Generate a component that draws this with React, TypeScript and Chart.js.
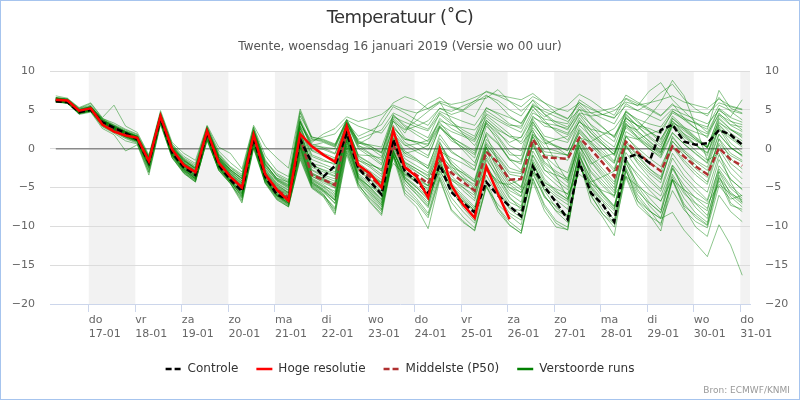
import React, { useEffect, useRef } from 'react';
import { Chart, registerables } from 'chart.js';

Chart.register(...registerables);

const FONT = "'DejaVu Sans', 'Noto Sans', sans-serif";

// time axis: hours relative to 17-01 00:00 (local), 6-hourly steps
const firstStepHour = -17;
const stepHours = 6;
const xMinHour = -20;
const xMaxHour = 341;

const dayNames = ['do', 'vr', 'za', 'zo', 'ma', 'di', 'wo', 'do', 'vr', 'za', 'zo', 'ma', 'di', 'wo', 'do'];
const dayDates = ['17-01', '18-01', '19-01', '20-01', '21-01', '22-01', '23-01', '24-01', '25-01', '26-01', '27-01', '28-01', '29-01', '30-01', '31-01'];
const yTicks = [10, 5, 0, -5, -10, -15, -20];

const controle = [
  6.1, 6.0, 4.7, 5.0, 3.4, 2.7, 2.0, 1.2, -1.8, 3.9,
  -0.5, -2.4, -3.4, 2.1, -2.1, -4.0, -5.5, 1.4, -3.6, -5.9,
  -6.6, 1.2, -1.8, -3.6, -2.2, 2.0, -2.5, -4.2, -5.9, 1.2,
  -2.9, -4.2, -5.8, -2.1, -5.6, -7.0, -8.2, -4.3, -6.0, -7.4,
  -8.7, -2.3, -4.9, -6.9, -9.1, -1.8, -5.7, -7.2, -9.4, -1.2,
  -0.7, -1.8, 2.4, 3.1, 0.9, 0.5, 0.7, 2.4, 1.8, 0.5,
];

const hogeResolutie = [
  6.3, 6.2, 4.9, 5.2, 3.1, 2.2, 1.7, 1.4, -1.6, 4.2,
  -0.1, -2.1, -3.0, 2.3, -1.8, -3.6, -5.0, 1.8, -3.3, -5.3,
  -6.7, 1.9, 0.3, -0.8, -1.7, 2.9, -2.1, -3.2, -5.0, 2.4,
  -2.4, -3.6, -6.3, 0.0, -4.7, -7.2, -8.9, -2.3, -5.8, -9.1,
];

const middelste = [
  6.2, 6.1, 4.8, 5.1, 3.4, 2.6, 1.9, 1.3, -1.7, 4.0,
  -0.3, -2.2, -3.3, 2.1, -1.8, -3.7, -5.0, 1.6, -3.4, -5.3,
  -6.3, 1.4, -3.4, -4.0, -4.7, 2.3, -2.6, -3.6, -4.9, 0.5,
  -2.4, -3.4, -4.5, -1.2, -3.1, -4.3, -5.4, -0.4, -1.8, -4.0,
  -3.9, 1.2, -1.1, -1.2, -1.3, 1.4, -0.1, -1.8, -3.6, 0.9,
  -0.5, -1.8, -2.9, 0.3, -1.0, -2.3, -3.3, 0.1, -1.4, -2.2,
];

const verstoordeRuns: number[][] = [
  [6.3, 6.0, 4.7, 5.0, 3.3, 2.5, 1.8, 1.2, -2.0, 3.8,
    -0.6, -2.5, -3.6, 1.9, -2.2, -4.1, -5.6, 1.2, -3.9, -5.8,
    -6.9, 0.8, -3.9, -4.8, -5.5, 1.8, -3.4, -4.6, -6.2, -0.3,
    -3.8, -5.0, -6.4, -2.9, -5.2, -6.7, -7.9, -2.6, -4.5, -6.9,
    -7.6, -1.8, -4.6, -5.9, -6.8, -1.0, -3.9, -5.8, -7.4, -1.6,
    -3.2, -4.9, -6.1, -2.1, -4.0, -5.6, -6.8, -2.6, -4.8, -6.1],
  [6.5, 6.3, 5.0, 5.3, 3.7, 2.9, 2.2, 1.6, -1.3, 4.3,
    0.1, -1.8, -2.8, 2.5, -1.3, -3.1, -4.4, 2.1, -2.8, -4.6,
    -5.7, 2.3, -2.1, -2.8, -3.5, 3.0, -1.2, -2.2, -3.3, 1.9,
    -0.6, -1.4, -2.2, 1.3, -0.5, -1.3, -2.2, 2.9, 1.4, -0.8,
    -0.9, 3.8, 1.6, 1.2, 0.8, 3.5, 2.1, 0.6, -0.9, 3.2,
    2.0, 0.6, -0.5, 2.8, 1.5, 0.4, -0.6, 2.5, 1.3, 0.2],
  [6.4, 6.2, 4.9, 5.4, 3.9, 3.3, 2.5, 1.9, -1.0, 4.6,
    0.5, -1.2, -2.1, 2.8, -0.6, -2.3, -3.3, 2.7, -1.6, -3.2,
    -4.0, 3.5, 0.4, 0.8, 0.2, 3.6, 0.9, 0.3, -0.4, 4.0,
    2.5, 3.6, 4.8, 5.9, 5.3, 4.8, 4.1, 6.8, 6.2, 5.0,
    4.2, 6.3, 5.1, 4.5, 3.8, 6.0, 4.6, 3.9, 3.2, 5.8,
    4.9, 5.8, 7.2, 8.3, 6.4, 5.1, 4.2, 6.6, 4.8, 3.7],
  [6.0, 5.9, 4.5, 4.8, 2.8, 2.0, 1.0, 0.6, -3.1, 3.3,
    -1.1, -3.0, -4.1, 1.1, -2.6, -4.4, -6.8, 0.3, -4.2, -6.3,
    -7.3, -0.8, -4.7, -5.8, -8.3, -0.5, -4.6, -6.5, -8.1, -1.0,
    -5.3, -6.7, -8.6, -3.6, -6.9, -8.8, -10.2, -4.7, -7.6, -9.4,
    -10.6, -3.8, -7.2, -9.3, -10.1, -1.9, -5.5, -7.9, -9.6, -2.8,
    -5.9, -7.8, -9.9, -3.6, -6.4, -8.3, -9.5, -3.8, -6.2, -7.5],
  [6.6, 6.4, 5.2, 5.6, 3.8, 2.8, 2.1, 1.5, -1.2, 4.5,
    0.4, -1.4, -2.6, 2.6, -1.0, -2.7, -3.8, 2.4, -1.8, -4.0,
    -4.8, 4.6, 1.2, 0.9, 0.3, 3.4, 0.5, -0.6, -1.5, 3.6,
    1.4, 0.7, -0.2, 2.9, 1.3, 0.1, -1.2, 3.7, 2.2, 0.4,
    -0.3, 4.2, 2.9, 2.6, 2.0, 4.5, 3.1, 2.0, 0.9, 4.8,
    3.4, 2.3, 1.1, 4.2, 2.8, 1.5, 0.3, 4.0, 2.5, 1.8],
  [6.2, 6.0, 4.6, 5.0, 3.2, 2.4, 1.6, 1.0, -2.3, 3.6,
    -0.8, -2.7, -3.9, 1.7, -2.4, -4.2, -5.9, 0.9, -4.0, -6.0,
    -7.0, 0.2, -4.3, -5.2, -6.4, 1.2, -3.7, -5.1, -6.8, -0.6,
    -3.0, -3.9, -4.7, -0.8, -2.4, -3.1, -4.2, 0.6, -1.5, -3.8,
    -4.9, 0.9, -1.7, -2.9, -3.8, 1.6, -0.9, -2.6, -4.3, 1.0,
    -0.8, -2.5, -3.9, 0.2, -1.8, -3.4, -4.6, -0.1, -2.4, -3.9],
  [6.8, 6.5, 5.3, 5.9, 4.0, 5.6, 2.9, 2.1, -0.8, 4.9,
    0.8, -0.6, -1.5, 3.0, 0.2, -0.6, -2.6, 3.0, 0.3, -1.2,
    -2.5, 5.1, 1.5, 1.1, 0.5, 3.8, 1.0, 0.4, -0.6, 4.4,
    3.0, 2.2, 1.4, 4.6, 3.5, 2.4, 1.6, 5.3, 4.4, 3.2,
    2.6, 5.8, 4.5, 3.4, 2.8, 5.4, 3.9, 2.7, 1.5, 4.9,
    3.6, 2.2, 0.8, 3.9, 2.5, 1.2, 0.2, 3.5, 2.0, 1.0],
  [6.1, 5.9, 4.6, 4.9, 3.0, 2.3, 1.5, 0.9, -2.6, 3.5,
    -0.9, -2.9, -4.0, 1.5, -2.5, -4.3, -6.2, 0.6, -4.1, -6.2,
    -7.2, -0.4, -4.6, -5.6, -7.0, 0.4, -4.2, -5.8, -7.5, -0.9,
    -4.4, -5.9, -7.6, -2.8, -5.5, -7.3, -8.7, -3.4, -6.1, -8.3,
    -9.2, -3.0, -6.3, -7.4, -8.6, -2.2, -5.0, -6.8, -8.5, -3.5,
    -6.7, -8.0, -9.0, -8.2, -10.5, -12.2, -13.9, -9.8, -12.4, -16.3],
  [6.3, 6.1, 4.8, 5.1, 3.5, 2.6, 1.9, 1.3, -1.7, 4.1,
    -0.3, -2.1, -3.2, 2.2, -1.6, -3.5, -4.8, 1.7, -3.2, -5.1,
    -6.0, 1.8, -2.8, -3.6, -4.2, 2.6, -2.0, -3.1, -4.3, 1.1,
    -1.7, -2.6, -3.6, 0.0, -2.0, -3.2, -4.3, 0.8, -1.0, -3.0,
    -3.2, 1.9, -0.4, -0.6, -0.8, 2.0, 0.4, -1.2, -2.9, 1.5,
    0.1, -1.2, -2.3, 0.9, -0.5, -1.7, -2.8, 0.7, -0.9, -1.7],
  [6.2, 6.0, 4.7, 5.0, 3.3, 2.4, 1.7, 1.1, -2.1, 3.7,
    -0.7, -2.6, -3.7, 1.8, -2.3, -4.0, -5.7, 1.0, -3.8, -5.9,
    -6.8, 0.5, -4.0, -4.9, -6.0, 1.5, -3.5, -4.9, -6.5, -0.2,
    -3.6, -4.8, -6.2, -1.9, -4.4, -6.0, -7.5, -2.0, -4.9, -7.3,
    -8.6, -2.7, -5.3, -6.6, -7.8, -0.4, -3.1, -4.8, -6.3, 0.3,
    -1.7, -3.2, -4.4, 1.0, -0.9, -2.6, -3.7, 1.3, -0.6, -1.5],
  [6.4, 6.2, 4.9, 5.2, 3.6, 2.8, 2.0, 1.4, -1.5, 4.2,
    -0.1, -1.9, -3.0, 2.3, -1.4, -3.2, -4.6, 1.9, -2.9, -4.7,
    -5.6, 2.6, -1.4, -2.0, -2.6, 2.9, -1.5, -2.4, -3.6, 1.6,
    -0.9, -1.6, -2.5, 1.8, -0.3, -1.4, -2.7, 2.1, 0.7, -1.5,
    -1.7, 2.7, 0.8, 0.3, -0.2, 3.0, 1.6, 0.5, -0.7, 3.9,
    3.0, 2.6, 1.9, 4.8, 4.0, 3.2, 2.5, 7.5, 5.2, 4.6],
  [6.0, 5.8, 4.5, 4.8, 3.0, 2.2, 1.4, 0.8, -2.8, 3.4,
    -1.0, -3.1, -4.3, 1.3, -2.8, -4.5, -6.4, 0.4, -4.4, -6.5,
    -7.5, -1.2, -5.0, -6.0, -7.6, 0.0, -4.8, -6.3, -7.9, -0.8,
    -4.0, -5.4, -6.9, -2.4, -4.8, -6.5, -8.0, -1.5, -3.6, -5.8,
    -6.9, -0.8, -3.3, -4.6, -5.9, 0.5, -2.4, -4.1, -5.7, -0.5,
    -2.6, -4.1, -5.5, -1.2, -3.5, -5.1, -6.6, -1.4, -3.9, -5.3],
  [6.5, 6.3, 5.0, 5.3, 3.4, 2.7, 2.0, 1.6, -1.4, 4.4,
    0.2, -1.6, -2.7, 2.4, -1.1, -2.9, -4.1, 2.3, -2.2, -4.1,
    -5.0, 3.8, 0.6, 0.1, -0.6, 3.3, 0.2, -0.7, -1.9, 3.0,
    0.8, 0.0, -0.9, 2.7, 1.4, 0.6, -0.3, 4.5, 3.6, 2.8,
    2.1, 5.0, 3.3, 2.4, 1.8, 4.4, 2.4, 0.9, -0.4, 3.3,
    1.4, 0.0, -1.2, 2.0, 0.6, -0.7, -1.9, 1.9, 0.1, -0.8],
  [6.1, 6.0, 4.7, 4.9, 3.2, 2.3, 1.6, 1.0, -2.4, 3.6,
    -0.8, -2.8, -3.8, 1.6, -2.4, -4.3, -6.0, 0.8, -4.0, -6.1,
    -7.1, 0.1, -4.4, -5.4, -6.7, 0.9, -3.9, -5.5, -7.2, -0.7,
    -4.8, -6.4, -8.3, -3.2, -6.3, -8.1, -9.6, -4.0, -7.7, -9.8,
    -10.9, -3.9, -7.5, -9.6, -10.5, -1.5, -4.8, -6.6, -8.0, -1.3,
    -3.6, -5.3, -6.8, -2.5, -4.7, -6.4, -7.7, -2.9, -5.1, -6.4],
  [6.3, 6.2, 4.9, 5.3, 3.6, 2.7, 2.1, 1.5, -1.4, 4.3,
    0.0, -1.9, -2.9, 2.3, -1.3, -3.2, -4.4, 2.0, -2.6, -4.4,
    -5.3, 3.0, -0.8, -1.4, -2.1, 3.1, -0.9, -1.8, -2.9, 2.4,
    0.5, -0.4, -1.2, 2.8, 1.0, 0.2, -0.8, 3.3, 2.0, 0.8,
    1.5, 4.6, 3.8, 3.5, 3.2, 6.3, 5.3, 4.4, 3.9, 6.4,
    5.5, 7.4, 8.5, 6.3, 4.8, 3.4, 2.1, 5.1, 3.6, 2.4],
  [6.2, 6.1, 4.8, 5.0, 3.4, 2.5, 1.8, 1.2, -1.9, 3.9,
    -0.4, -2.3, -3.4, 2.0, -1.9, -3.8, -5.2, 1.4, -3.5, -5.5,
    -6.5, 1.0, -3.5, -4.4, -5.1, 2.0, -2.9, -4.0, -5.5, 0.2,
    -2.5, -3.6, -4.8, -1.1, -3.5, -5.0, -6.4, -0.9, -3.2, -5.4,
    -6.2, -0.3, -2.8, -3.4, -4.0, 0.8, -1.7, -3.6, -5.4, 0.4,
    -1.9, -3.7, -5.2, -0.6, -2.7, -4.4, -5.6, -0.8, -3.2, -4.6],
  [6.0, 5.9, 4.4, 4.7, 2.6, 1.8, -0.3, 0.5, -3.4, 3.1,
    -1.2, -3.1, -4.2, 1.0, -2.7, -4.4, -6.6, 0.1, -4.3, -6.4,
    -7.4, -1.0, -4.9, -6.1, -8.0, -0.3, -4.5, -6.8, -8.4, -0.5,
    -5.7, -7.0, -8.9, -3.8, -7.8, -9.3, -10.6, -4.8, -8.1, -9.9,
    -10.9, -4.3, -8.0, -10.1, -10.4, -1.7, -6.9, -8.8, -11.2, -2.6,
    -6.8, -8.5, -10.6, -4.0, -7.4, -8.6, -9.8, -3.4, -7.0, -8.1],
  [6.5, 6.3, 5.1, 5.5, 3.7, 3.0, 2.3, 1.7, -1.1, 4.5,
    0.3, -1.3, -2.3, 2.7, -0.8, -2.5, -3.6, 2.5, -1.4, -3.5,
    -4.4, 4.2, 1.5, 1.2, 0.6, 3.5, 0.8, 0.1, -1.0, 3.8,
    2.0, 4.5, 5.8, 6.6, 5.4, 5.0, 6.2, 6.5, 7.6, 6.1,
    4.8, 6.2, 4.4, 3.1, 2.4, 5.1, 3.0, 1.3, 0.2, 4.1,
    2.3, 0.9, -0.4, 3.1, 1.2, -0.3, -1.5, 2.8, 0.7, -0.5],
  [6.3, 6.1, 4.8, 5.1, 3.2, 2.4, 1.8, 1.3, -1.8, 4.0,
    -0.5, -2.3, -3.5, 2.1, -1.7, -3.6, -5.0, 1.5, -3.3, -5.4,
    -6.3, 1.4, -3.1, -3.9, -4.7, 2.4, -2.3, -3.4, -4.8, 0.7,
    -1.9, -2.9, -4.0, -0.3, -1.2, -1.9, -2.8, 1.9, 0.6, -1.3,
    -2.0, 3.1, 1.3, 0.2, -0.9, 2.6, 0.8, -1.0, -2.6, 2.2,
    1.2, 0.0, -1.0, 3.3, 2.6, 1.4, 0.1, 4.3, 3.0, 2.2],
  [6.4, 6.2, 4.9, 5.2, 3.5, 2.7, 2.0, 1.4, -1.6, 4.2,
    -0.2, -2.0, -3.1, 2.2, -1.5, -3.4, -4.7, 1.8, -3.0, -4.9,
    -5.8, 2.0, -2.4, -3.0, -3.6, 2.7, -1.8, -2.9, -4.0, 1.3,
    -1.3, -2.2, -3.1, 0.7, -1.6, -2.9, -4.0, 1.2, -0.6, -2.5,
    -3.0, 2.2, 0.1, -0.3, -0.9, 2.4, 0.9, -0.4, -1.8, 2.9,
    1.6, 0.4, -0.6, 3.9, 2.7, 2.1, 1.6, 5.2, 4.1, 6.3],
  [6.2, 6.0, 4.7, 5.0, 3.3, 2.5, 1.7, 1.1, -2.0, 3.8,
    -0.6, -2.5, -3.6, 1.9, -2.1, -3.9, -5.4, 1.2, -3.7, -5.7,
    -6.7, 0.6, -3.8, -4.6, -5.8, 1.6, -3.2, -4.4, -6.0, 0.0,
    -3.2, -4.3, -5.5, -1.4, -3.9, -5.4, -6.7, -1.2, -4.0, -6.4,
    -7.4, -1.4, -4.2, -5.6, -6.5, -0.6, -5.1, -7.3, -9.2, -2.4,
    -5.5, -7.0, -8.2, -3.3, -5.8, -7.1, -8.6, -3.7, -5.6, -6.9],
  [6.4, 6.3, 5.0, 5.4, 3.8, 3.0, 2.2, 1.6, -1.3, 4.4,
    0.1, -1.6, -2.5, 2.6, -1.0, -2.7, -3.9, 2.2, -2.0, -3.9,
    -4.7, 3.4, 0.2, -0.1, -0.7, 3.2, 0.0, -1.0, -2.1, 2.8,
    1.2, 0.9, 0.4, 3.9, 2.6, 1.8, 1.1, 4.9, 3.9, 3.0,
    2.9, 5.4, 4.1, 4.9, 5.6, 7.0, 6.2, 5.1, 4.3, 6.9,
    6.0, 5.2, 4.3, 5.8, 3.9, 2.6, 1.4, 4.6, 3.1, 2.8],
  [6.1, 5.9, 4.6, 4.9, 3.1, 2.2, 1.5, 0.9, -2.5, 3.5,
    -0.9, -2.9, -4.1, 1.4, -2.6, -4.2, -6.1, 0.7, -4.1, -6.0,
    -7.0, -0.2, -4.5, -5.5, -7.1, 0.6, -4.0, -5.6, -7.3, -0.4,
    -3.4, -4.3, -5.1, -1.0, -2.8, -3.9, -5.1, 0.2, -2.1, -4.3,
    -5.3, 0.4, -2.2, -3.7, -4.9, 1.1, -1.6, -3.3, -5.0, 1.7,
    -0.2, -1.7, -2.8, 1.4, -0.2, -1.5, -2.4, 1.8, 0.1, -0.9],
  [6.3, 6.1, 4.8, 5.2, 3.5, 2.7, 2.0, 1.4, -1.6, 4.1,
    -0.1, -2.0, -3.1, 2.1, -1.6, -3.5, -4.9, 1.7, -3.1, -5.0,
    -5.9, 2.2, -1.9, -2.3, -3.0, 2.8, -1.0, -1.9, -2.8, 2.1,
    -0.3, -1.3, -2.6, 0.9, -2.2, -4.0, -5.8, -0.3, -3.4, -6.2,
    -7.9, -1.7, -5.4, -7.6, -8.9, -1.8, -6.0, -8.4, -9.7, -2.9,
    -6.3, -8.0, -9.0, -3.9, -7.1, -8.9, -9.9, -4.1, -7.3, -7.8],
  [6.5, 6.4, 5.1, 5.4, 3.6, 2.8, 2.1, 1.5, -1.2, 4.4,
    0.2, -1.5, -2.6, 2.5, -1.2, -2.9, -4.2, 2.2, -2.4, -4.2,
    -5.1, 3.6, -0.2, -0.6, -1.2, 3.3, 0.3, 0.0, -0.5, 3.5,
    2.4, 2.9, 3.6, 5.2, 4.4, 4.9, 5.9, 6.9, 5.8, 4.2,
    3.2, 5.5, 3.6, 2.2, 1.1, 4.0, 2.0, 0.6, -0.8, 3.6,
    2.2, 1.0, -0.2, 3.0, 1.7, 0.5, -0.9, 3.8, 2.5, 1.4],
  [6.2, 6.0, 4.6, 4.9, 3.1, 2.3, 1.5, 1.0, -2.2, 3.7,
    -0.8, -2.7, -3.9, 1.6, -2.5, -4.1, -6.3, 0.5, -4.4, -6.1,
    -7.2, -0.6, -4.8, -5.9, -7.8, 0.3, -4.4, -6.0, -7.8, -0.9,
    -4.1, -5.5, -7.2, -2.0, -4.1, -5.0, -6.0, 0.0, -2.4, -4.6,
    -5.7, 0.7, -1.9, -3.1, -4.4, 1.2, -1.2, -3.0, -4.6, 0.5,
    -1.4, -2.9, -4.0, 0.4, -1.5, -3.0, -4.3, 0.5, -1.9, -3.1],
  [6.3, 6.2, 4.8, 5.2, 3.4, 2.6, 1.9, 1.3, -1.8, 4.0,
    -0.4, -2.2, -3.3, 2.0, -1.8, -3.7, -5.1, 1.5, -3.4, -5.3,
    -6.2, 1.6, -3.2, -3.8, -4.5, 2.5, -2.2, -3.2, -4.6, 1.0,
    -2.1, -3.0, -3.9, -0.5, -2.6, -3.8, -4.6, 0.4, -1.2, -3.3,
    -3.6, 1.5, -0.8, -1.0, -1.5, 2.2, 0.6, -0.7, -1.9, 3.0,
    2.4, 4.1, 6.0, 8.8, 6.8, 2.9, -1.5, -0.6, -4.3, -6.9],
  [6.0, 5.9, 4.5, 4.8, 2.9, 2.1, 1.3, 0.7, -3.0, 3.2,
    -1.2, -3.2, -4.3, 1.2, -2.8, -4.5, -7.0, 0.0, -4.5, -6.6,
    -7.5, -1.4, -5.1, -6.2, -8.5, -0.8, -5.0, -6.9, -8.6, -1.1,
    -6.0, -7.5, -10.3, -4.0, -8.0, -9.5, -10.5, -5.0, -7.2, -8.6,
    -9.8, -2.5, -6.0, -8.1, -9.5, -1.1, -4.4, -6.2, -7.8, -1.9,
    -4.5, -6.3, -7.9, -2.2, -5.5, -7.6, -9.0, -3.0, -5.9, -7.1],
  [6.6, 6.4, 5.2, 5.8, 3.9, 3.1, 2.4, 1.8, -1.0, 4.7,
    0.6, -1.0, -1.9, 2.9, -0.3, -1.8, -3.0, 2.8, -0.9, -2.8,
    -3.6, 4.8, 1.3, 1.0, 0.4, 3.7, 0.7, 0.5, 0.2, 4.3,
    2.8, 1.8, 0.9, 3.4, 1.5, 0.5, -0.6, 3.4, 1.6, -0.4,
    -1.5, 3.4, 1.1, 0.4, -0.3, 3.7, 1.4, 0.0, -1.6, 4.3,
    2.9, 1.4, 0.2, 3.6, 1.9, 0.5, -0.5, 3.1, 1.6, 0.7],
  [6.2, 6.0, 4.7, 5.1, 3.3, 2.6, 1.8, 1.2, -1.9, 3.9,
    -0.5, -2.4, -3.5, 2.0, -2.0, -3.8, -5.3, 1.3, -3.6, -5.6,
    -6.5, 0.9, -3.6, -4.2, -5.0, 2.1, -2.7, -3.9, -5.2, 0.4,
    -2.8, -4.0, -5.3, -1.6, -4.6, -6.3, -7.7, -2.4, -5.3, -7.6,
    -8.0, -2.0, -4.9, -6.2, -7.2, -0.2, -2.9, -4.5, -6.1, 0.8,
    -1.0, -2.6, -3.6, 1.6, -0.4, -2.1, -3.4, 1.2, -1.3, -2.6],
  [6.4, 6.2, 4.9, 5.2, 3.5, 2.7, 2.1, 1.5, -1.5, 4.1,
    0.0, -1.7, -2.8, 2.3, -1.2, -2.8, -3.9, 2.3, -2.1, -3.8,
    -4.3, 2.9, 0.8, 1.9, 2.6, 4.1, 3.5, 3.9, 4.4, 5.6,
    5.0, 4.6, 5.2, 6.1, 5.7, 6.0, 6.6, 7.3, 6.8, 6.1,
    5.4, 6.7, 5.9, 5.2, 4.8, 5.9, 5.1, 4.4, 4.0, 5.5,
    4.9, 4.3, 3.6, 5.1, 4.4, 3.8, 3.2, 4.9, 4.0, 3.4],
  [6.3, 6.1, 4.8, 5.2, 3.4, 2.6, 1.9, 1.4, -1.6, 4.0,
    -0.2, -2.0, -3.0, 2.2, -1.3, -3.0, -4.2, 2.0, -2.4, -4.0,
    -4.9, 2.6, -0.3, -0.9, -1.4, 3.1, 1.2, 1.8, 2.4, 4.6,
    3.9, 3.1, 2.5, 4.8, 4.1, 3.5, 3.0, 5.2, 4.6, 4.0,
    3.3, 5.6, 4.8, 4.1, 3.5, 5.0, 4.6, 4.9, 5.3, 6.5,
    5.8, 5.0, 4.2, 5.6, 5.0, 4.7, 4.5, 5.9, 5.4, 5.0],
  [6.5, 6.3, 5.0, 5.4, 3.6, 2.9, 2.2, 1.6, -1.3, 4.3,
    0.3, -1.4, -2.4, 2.6, -0.8, -2.4, -3.5, 2.4, -1.7, -3.4,
    -4.2, 3.2, 1.0, 1.5, 1.9, 3.7, 2.9, 2.4, 2.0, 4.1,
    3.4, 2.8, 2.3, 4.4, 3.2, 2.1, 1.3, 4.0, 2.7, 1.5,
    0.9, 3.5, 1.0, -1.8, -4.2, 0.5, -3.6, -5.7, -7.4, -1.2,
    -4.8, -6.9, -8.3, -2.6, -5.2, -7.0, -8.0, -2.2, -4.0, -5.2],
  [6.1, 5.9, 4.6, 4.9, 3.1, 2.3, 1.6, 1.0, -2.3, 3.7,
    -0.7, -2.6, -3.8, 1.7, -2.3, -4.1, -5.8, 1.0, -3.9, -6.0,
    -7.0, 0.3, -4.2, -5.3, -6.6, 1.1, -3.8, -5.3, -7.0, -0.3,
    -4.0, -5.8, -7.4, -1.5, -5.3, -7.6, -9.3, -2.3, -4.4, -4.6,
    -3.9, 1.8, 0.6, 1.2, 1.6, 3.4, 2.5, 2.1, 1.7, 3.9,
    3.0, 2.2, 1.3, 3.5, 2.3, 1.2, 0.1, 3.0, 1.5, 0.4],
  [6.4, 6.2, 4.9, 5.3, 3.6, 2.8, 2.1, 1.5, -1.5, 4.2,
    0.0, -1.8, -2.9, 2.3, -1.4, -3.3, -4.5, 1.9, -2.7, -4.5,
    -5.4, 2.8, -1.0, -1.6, -1.9, 3.3, 0.6, 1.4, 3.8, 5.9,
    6.7, 6.2, 5.1, 6.0, 3.6, 1.9, 0.4, 3.2, 0.9, -1.4,
    -2.8, 1.6, -0.9, -2.3, -3.1, 1.4, 0.9, 1.8, 2.6, 4.7,
    3.8, 3.2, 2.8, 4.9, 3.7, 2.6, 1.9, 4.4, 3.5, 3.1],
  [6.2, 6.0, 4.7, 5.0, 3.2, 2.4, 1.7, 1.1, -2.1, 3.7,
    -0.6, -2.6, -3.7, 1.8, -2.2, -4.0, -5.5, 1.1, -3.8, -5.8,
    -6.8, 0.4, -4.1, -5.0, -6.2, 1.4, -3.6, -5.0, -6.6, -0.2,
    -3.7, -5.0, -6.6, -2.2, -5.0, -6.8, -8.1, -2.7, -5.5, -7.8,
    -8.9, -3.3, -6.1, -8.0, -8.7, -2.5, -4.3, -3.6, -2.9, 1.6,
    1.2, 1.9, 2.4, 4.6, 3.8, 3.3, 2.8, 5.6, 4.9, 4.5],
  [6.3, 6.1, 4.8, 5.1, 3.4, 2.6, 1.9, 1.3, -1.7, 4.1,
    -0.3, -2.1, -3.2, 2.2, -1.7, -3.6, -4.9, 1.6, -3.2, -5.1,
    -6.1, 1.7, -2.7, -3.4, -3.9, 2.6, -1.5, -2.1, -2.6, 1.9,
    0.4, 0.6, 1.1, 3.6, 3.0, 2.7, 2.4, 4.3, 3.1, 1.9,
    0.6, 2.4, -0.8, -3.5, -6.4, -1.9, -6.1, -8.4, -10.1, -3.7,
    -7.3, -8.7, -9.6, -5.4, -7.9, -9.4, -10.2, -4.8, -6.5, -6.0],
  [6.5, 6.3, 5.0, 5.4, 3.7, 2.9, 2.2, 1.6, -1.2, 4.4,
    0.2, -1.5, -2.5, 2.6, -1.0, -2.7, -3.8, 2.3, -2.0, -3.8,
    -4.6, 3.5, 0.3, 0.2, 0.0, 3.4, 1.6, 2.3, 3.1, 5.4,
    4.6, 3.7, 3.0, 5.2, 4.8, 5.5, 6.1, 7.4, 6.9, 6.6,
    6.3, 7.1, 5.9, 4.6, 3.9, 5.7, 4.1, 2.8, 1.4, 4.5,
    2.9, 1.6, 0.5, 3.2, 1.9, 1.0, 0.2, 3.3, 2.4, 1.6],
  [6.1, 5.9, 4.6, 4.9, 3.1, 2.3, 1.6, 1.0, -2.2, 3.6,
    -0.8, -2.8, -3.9, 1.6, -2.4, -4.2, -5.8, 0.9, -3.9, -6.0,
    -7.0, 0.0, -4.4, -5.4, -6.6, 1.0, -3.8, -4.9, -5.4, -1.9,
    -3.3, -4.1, -4.8, -2.6, -3.9, -4.7, -5.3, -2.8, -4.1, -5.0,
    -5.6, -3.1, -4.4, -5.2, -5.8, -3.3, -4.5, -5.4, -6.0, -3.6,
    -4.8, -5.9, -6.7, -4.0, -5.3, -6.3, -7.1, -4.6, -5.8, -6.6],
  [6.3, 6.2, 4.9, 5.2, 3.5, 2.7, 2.0, 1.4, -1.6, 4.2,
    -0.1, -1.9, -3.0, 2.2, -1.5, -3.4, -4.7, 1.8, -3.0, -4.8,
    -5.7, 2.1, -2.2, -2.7, -3.2, 2.8, -0.8, -0.9, -1.2, 2.6,
    1.2, 0.9, 0.6, 3.1, 2.2, 1.6, 0.9, 3.6, 2.4, 1.6,
    1.4, 4.0, 3.3, 3.0, 2.6, 4.6, 4.2, 4.4, 4.9, 6.0,
    5.6, 5.9, 6.3, 6.8, 6.0, 5.6, 5.2, 6.4, 5.5, 5.1],
  [6.2, 6.0, 4.7, 5.0, 3.3, 2.5, 1.8, 1.2, -1.9, 3.9,
    -0.4, -2.3, -3.4, 2.0, -1.9, -3.7, -5.2, 1.4, -3.5, -5.5,
    -6.4, 1.1, -3.3, -4.1, -4.8, 2.2, -2.6, -3.5, -4.4, 1.4,
    -0.6, -0.2, 0.4, 2.9, 1.4, -0.2, -1.8, 1.7, -1.6, -3.9,
    -5.0, 0.6, -2.7, -4.1, -5.3, 0.3, -2.0, -1.1, -0.6, 2.7,
    1.4, 0.3, -0.8, 2.1, 0.6, -0.6, -1.8, 2.6, 0.2, -1.0],
  [6.2, 6.1, 4.8, 5.1, 3.4, 2.6, 1.9, 1.3, -1.8, 4.0,
    -0.4, -2.3, -3.4, 2.0, -1.8, -3.7, -5.1, 1.5, -3.4, -5.4,
    -6.3, 1.3, -3.3, -4.0, -4.8, 2.3, -2.4, -3.3, -4.4, 1.2,
    -1.8, -2.6, -3.4, 0.4, -1.9, -3.5, -4.9, 0.2, -2.8, -5.0,
    -6.1, -0.9, -3.9, -5.4, -6.6, -0.8, -3.9, -5.9, -7.6, -1.7,
    -5.2, -7.3, -8.9, -4.1, -7.6, -10.1, -11.3, -6.0, -8.1, -9.4],
];

const seriesStyle = {
  controle: { label: 'Controle', color: '#000000', dash: [6, 3], width: 2.5 },
  hoge: { label: 'Hoge resolutie', color: '#ff0000', dash: [] as number[], width: 2.5 },
  middelste: { label: 'Middelste (P50)', color: '#b03030', dash: [6, 3], width: 2.5 },
  runs: { label: 'Verstoorde runs', color: 'rgba(0,128,0,0.45)', legendColor: '#008000', width: 1 },
};

const hourOf = (k: number) => firstStepHour + k * stepHours;
const toPoints = (vals: number[]) => vals.map((v, k) => ({ x: hourOf(k), y: v }));

const titleText = 'Temperatuur (˚C)';
const subtitleText = 'Twente, woensdag 16 januari 2019 (Versie wo 00 uur)';
const sourceText = 'Bron: ECMWF/KNMI';

const decorPlugin = {
  id: 'decor',
  beforeDraw(chart: any) {
    const { ctx, chartArea } = chart;
    const xs = chart.scales.x;
    ctx.save();
    ctx.fillStyle = '#f2f2f2';
    dayDates.forEach((_, i) => {
      if (i % 2 !== 0) return;
      const x0 = Math.max(xs.getPixelForValue(i * 24), chartArea.left);
      const x1 = Math.min(xs.getPixelForValue((i + 1) * 24), chartArea.right);
      if (x1 > x0) ctx.fillRect(x0, chartArea.top, x1 - x0, chartArea.bottom - chartArea.top);
    });
    ctx.restore();
  },
  afterDraw(chart: any) {
    const { ctx, width } = chart;
    ctx.save();
    ctx.textAlign = 'center';
    ctx.textBaseline = 'middle';
    ctx.fillStyle = '#333333';
    ctx.font = `18px ${FONT}`;
    try { (ctx as any).letterSpacing = '-0.6px'; } catch (e) { /* ignore */ }
    ctx.fillText(titleText, width / 2, 17);
    try { (ctx as any).letterSpacing = '0px'; } catch (e) { /* ignore */ }
    ctx.fillStyle = '#555555';
    ctx.font = `12px ${FONT}`;
    ctx.fillText(subtitleText, width / 2, 46);

    // legend
    const items = [
      { label: seriesStyle.controle.label, color: seriesStyle.controle.color, dash: seriesStyle.controle.dash },
      { label: seriesStyle.hoge.label, color: seriesStyle.hoge.color, dash: seriesStyle.hoge.dash },
      { label: seriesStyle.middelste.label, color: seriesStyle.middelste.color, dash: seriesStyle.middelste.dash },
      { label: seriesStyle.runs.label, color: seriesStyle.runs.legendColor, dash: [] as number[] },
    ];
    ctx.font = `12px ${FONT}`;
    const sym = 16, gap = 6, between = 18;
    const widths = items.map((it) => sym + gap + ctx.measureText(it.label).width);
    const total = widths.reduce((a, b) => a + b, 0) + between * (items.length - 1);
    let x = width / 2 - total / 2;
    const ly = 368;
    items.forEach((it, i) => {
      ctx.beginPath();
      ctx.setLineDash(it.dash);
      ctx.strokeStyle = it.color;
      ctx.lineWidth = 2.5;
      ctx.moveTo(x, ly);
      ctx.lineTo(x + sym, ly);
      ctx.stroke();
      ctx.setLineDash([]);
      ctx.fillStyle = '#333333';
      ctx.textAlign = 'left';
      ctx.fillText(it.label, x + sym + gap, ly);
      x += widths[i] + between;
    });

    ctx.font = `9px ${FONT}`;
    ctx.fillStyle = '#999999';
    ctx.textAlign = 'right';
    ctx.fillText(sourceText, width - 9, 390);
    ctx.restore();
  },
};

const fmt = (v: any) => String(v).replace('-', '\u2212');

export default function App() {
  const ref = useRef<HTMLCanvasElement | null>(null);
  useEffect(() => {
    if (!ref.current) return;
    Chart.defaults.font.family = FONT;
    const datasets: any[] = [
      {
        label: seriesStyle.hoge.label, data: toPoints(hogeResolutie), borderColor: seriesStyle.hoge.color,
        borderWidth: seriesStyle.hoge.width, pointRadius: 0, tension: 0, fill: false,
      },
      {
        label: seriesStyle.controle.label, data: toPoints(controle), borderColor: seriesStyle.controle.color,
        borderWidth: seriesStyle.controle.width, borderDash: seriesStyle.controle.dash, pointRadius: 0, tension: 0, fill: false,
      },
      {
        label: seriesStyle.middelste.label, data: toPoints(middelste), borderColor: seriesStyle.middelste.color,
        borderWidth: seriesStyle.middelste.width, borderDash: seriesStyle.middelste.dash, pointRadius: 0, tension: 0, fill: false,
      },
      ...verstoordeRuns.map((run, i) => ({
        label: `${seriesStyle.runs.label} ${i + 1}`, data: toPoints(run), borderColor: seriesStyle.runs.color,
        borderWidth: seriesStyle.runs.width, pointRadius: 0, tension: 0, fill: false,
      })),
      {
        label: 'nul', data: [{ x: hourOf(0), y: 0 }, { x: hourOf(controle.length - 1), y: 0 }],
        borderColor: '#8a8a8a', borderWidth: 1.5, pointRadius: 0, fill: false,
      },
    ];
    const yCommon = {
      min: yTicks[yTicks.length - 1],
      max: yTicks[0],
      afterFit: (s: any) => { s.width = 49; },
      border: { display: false },
    };
    const chart = new Chart(ref.current, {
      type: 'line',
      data: { datasets },
      plugins: [decorPlugin],
      options: {
        animation: false,
        responsive: false,
        events: [],
        layout: { padding: { top: 70, left: 0, right: 0, bottom: 0 } },
        plugins: { legend: { display: false }, title: { display: false }, tooltip: { enabled: false } },
        scales: {
          x: {
            type: 'linear',
            min: xMinHour,
            max: xMaxHour,
            afterBuildTicks: (s: any) => { s.ticks = dayDates.map((_, i) => ({ value: i * 24 })); },
            afterFit: (s: any) => { s.height = 95; },
            grid: { drawOnChartArea: false, drawTicks: true, tickLength: 8, color: '#ccd6eb' },
            border: { display: true, color: '#ccd6eb' },
            ticks: {
              autoSkip: false, maxRotation: 0, minRotation: 0, align: 'start', padding: 2,
              color: '#666666', font: { size: 11, family: FONT },
              callback: (v: any) => { const i = Math.round(Number(v) / 24); return [dayNames[i], dayDates[i]]; },
            },
          },
          y: {
            ...yCommon,
            position: 'left',
            grid: { drawTicks: false, color: (c: any) => (c.tick && c.tick.value === yTicks[yTicks.length - 1] ? 'rgba(0,0,0,0)' : '#dcdcdc') },
            ticks: { stepSize: 5, padding: 15, color: '#666666', font: { size: 11, family: FONT }, callback: fmt },
          },
          y2: {
            ...yCommon,
            position: 'right',
            grid: { drawOnChartArea: false, drawTicks: false },
            ticks: { stepSize: 5, padding: 15, color: '#666666', font: { size: 11, family: FONT }, callback: fmt },
          },
        },
      } as any,
    });
    return () => chart.destroy();
  }, []);

  return (
    <div style={{ position: 'absolute', left: 0, top: 0, width: 800, height: 400, boxSizing: 'border-box', border: '1px solid #a6c4ee', background: '#ffffff' }}>
      <canvas ref={ref} width={798} height={398} style={{ display: 'block', width: 798, height: 398 }} />
    </div>
  );
}
